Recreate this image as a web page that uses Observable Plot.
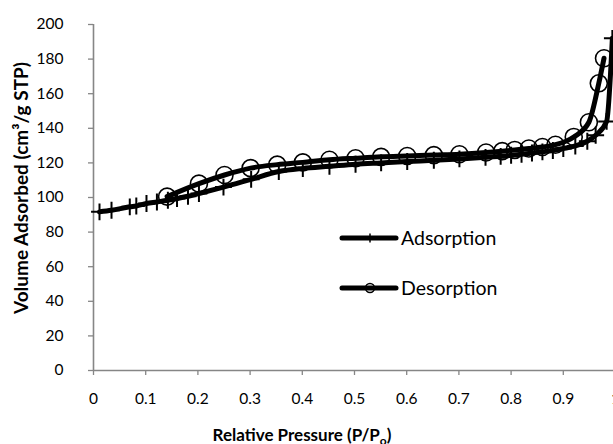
<!DOCTYPE html>
<html>
<head>
<meta charset="utf-8">
<script src="https://cdn.jsdelivr.net/npm/d3@7"></script>
<script src="https://cdn.jsdelivr.net/npm/@observablehq/plot@0.6"></script>
<style>
  html, body { margin: 0; padding: 0; background: white; overflow: hidden; }
  #chart svg { display: block; }
</style>
</head>
<body>
<div id="chart"></div>
<script>
// Adsorption branch (relative pressure, volume adsorbed)
const adsP = [0.0115, 0.0345, 0.0695, 0.082, 0.1015, 0.1215, 0.1425, 0.160, 0.181, 0.202, 0.249, 0.302, 0.355, 0.401, 0.452, 0.502, 0.551, 0.601, 0.652, 0.701, 0.751, 0.78, 0.80, 0.82, 0.84, 0.86, 0.88, 0.90, 0.923, 0.946, 0.962, 0.983, 0.994];
const adsV = [91.7, 92.6, 94.6, 95.1, 96.5, 97.4, 98.4, 99.4, 100.7, 102.3, 106, 110.5, 115, 116.8, 118, 119.2, 120, 120.8, 121.5, 122.3, 123.2, 123.8, 124.4, 125, 125.7, 126.4, 127.2, 128.3, 129.8, 132.5, 136, 144, 192];
// Desorption branch
const desP = [0.141, 0.202, 0.251, 0.301, 0.352, 0.401, 0.452, 0.502, 0.551, 0.601, 0.652, 0.701, 0.752, 0.783, 0.807, 0.834, 0.860, 0.885, 0.920, 0.949, 0.968, 0.978];
const desV = [100.5, 108, 113, 117, 119, 120.3, 121.8, 122.7, 123.5, 124, 124.5, 125, 126, 126.8, 127.5, 128.3, 129.2, 130.5, 135, 143.5, 166, 180.5];

const xTicks = [0, 0.1, 0.2, 0.3, 0.4, 0.5, 0.6, 0.7, 0.8, 0.9, 1];
const yTicks = [0, 20, 40, 60, 80, 100, 120, 140, 160, 180, 200];
const seriesNames = ["Adsorption", "Desorption"];
const xTitle = "Relative Pressure (P/P";
const xTitleSub = "o";
const yTitle = "Volume Adsorbed (cm³/g STP)";

const ads = adsP.map((p, i) => ({p, v: adsV[i]}));
const des = desP.map((p, i) => ({p, v: desV[i]}));

const axisColor = "#868686";
const font = "Lato, 'Open Sans', sans-serif";

const chart = Plot.plot({
  width: 613,
  height: 444,
  marginLeft: 93,
  marginRight: -2,
  marginTop: 24,
  marginBottom: 74,
  style: {fontFamily: font, fontSize: "15px", color: "black", background: "white"},
  x: {domain: [0, 1]},
  y: {domain: [0, 200]},
  marks: [
    Plot.axisX({ticks: xTicks, tickFormat: d => String(d), tickSize: 5, tickPadding: 17, stroke: axisColor, strokeWidth: 1.3, label: null, fontSize: 15.5, fill: "black"}),
    Plot.axisY({ticks: yTicks, tickFormat: d => String(d), tickSize: 5, tickPadding: 25, stroke: axisColor, strokeWidth: 1.3, label: null, fontSize: 15.5, fill: "black"}),
    Plot.ruleY([0], {stroke: axisColor, strokeWidth: 1.6}),
    Plot.ruleX([0], {stroke: axisColor, strokeWidth: 1.6}),
    Plot.line(ads, {x: "p", y: "v", curve: "monotone-x", stroke: "black", strokeWidth: 5}),
    Plot.dot(ads, {x: "p", y: "v", symbol: "plus", r: 5.5, stroke: "black", strokeWidth: 2}),
    Plot.line(des, {x: "p", y: "v", curve: "monotone-x", stroke: "black", strokeWidth: 5}),
    Plot.dot(des, {x: "p", y: "v", symbol: "circle", r: 8.5, stroke: "black", strokeWidth: 1.6, fill: "none"})
  ]
});

document.getElementById("chart").appendChild(chart);

// Axis titles and legend
const svg = d3.select(chart);
const xt = svg.append("text")
  .attr("x", 302).attr("y", 441)
  .attr("text-anchor", "middle")
  .attr("font-family", font).attr("font-size", 17).attr("font-weight", "bold")
  .attr("fill", "black");
xt.append("tspan").text(xTitle);
xt.append("tspan").attr("font-size", 12).attr("dy", 4).text(xTitleSub);
xt.append("tspan").attr("dy", -4).text(")");

svg.append("text")
  .attr("transform", "translate(28,188) rotate(-90)")
  .attr("text-anchor", "middle")
  .attr("font-family", font).attr("font-size", 19).attr("font-weight", "bold")
  .attr("fill", "black")
  .text(yTitle);

const legendY = [238, 288];
const lg = svg.append("g");
seriesNames.forEach((name, i) => {
  const y = legendY[i];
  lg.append("line").attr("x1", 342).attr("x2", 396).attr("y1", y).attr("y2", y)
    .attr("stroke", "black").attr("stroke-width", 5).attr("stroke-linecap", "round");
  if (i === 0) {
    lg.append("line").attr("x1", 370).attr("x2", 370).attr("y1", y - 4.5).attr("y2", y + 4.5)
      .attr("stroke", "black").attr("stroke-width", 1.5);
  } else {
    lg.append("circle").attr("cx", 370).attr("cy", y).attr("r", 4.5)
      .attr("fill", "none").attr("stroke", "black").attr("stroke-width", 1.5);
  }
  lg.append("text").attr("x", 401).attr("y", y).attr("dy", "0.35em")
    .attr("text-anchor", "start")
    .attr("font-family", font).attr("font-size", 19.5).attr("fill", "black").text(name);
});
</script>
</body>
</html>
